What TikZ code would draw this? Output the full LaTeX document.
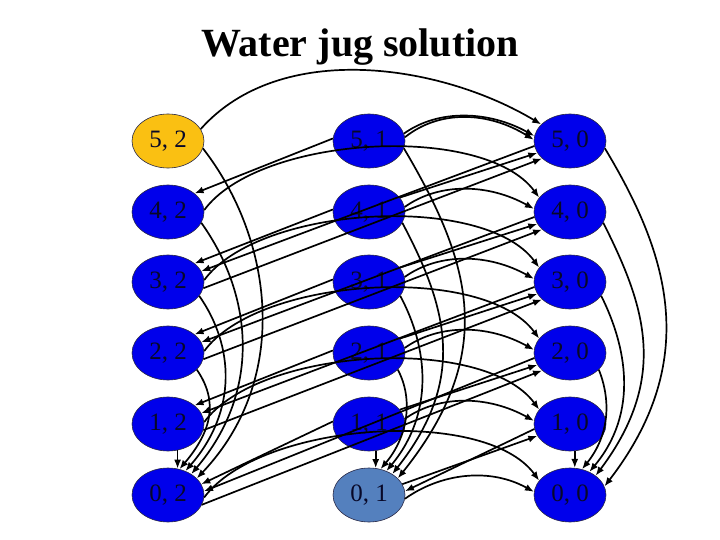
\documentclass[tikz,border=0pt]{standalone}
\usepackage{fontspec}
\setmainfont{Liberation Serif}
\usetikzlibrary{shapes.geometric,arrows.meta}
\definecolor{jugblue}{RGB}{0,0,235}
\definecolor{jugyellow}{RGB}{250,192,18}
\definecolor{jugsteel}{RGB}{84,128,190}
\definecolor{jugtext}{RGB}{8,8,40}
\definecolor{jugline}{RGB}{40,40,70}
\begin{document}
\begin{tikzpicture}[x=1pt,y=-1pt,
  st/.style={ellipse,draw=jugline,line width=0.6pt,fill=jugblue,minimum width=72pt,minimum height=54pt,inner sep=0pt,text=jugtext,font=\fontsize{25}{25}\selectfont},
  ar/.style={line width=1.7pt,-{Latex[length=9pt,width=7pt]}}]
\fill[white] (0,0) rectangle (720,540);
\useasboundingbox (0,0) rectangle (720,540);
\node[font=\bfseries\fontsize{40}{40}\selectfont,anchor=base] (title) at (360,57) {Water jug solution};
% nodes
\node[st,fill=jugyellow] (n52) at (168,141) {5, 2};
\node[st] (n42) at (168,212) {4, 2};
\node[st] (n32) at (168,282) {3, 2};
\node[st] (n22) at (168,353) {2, 2};
\node[st] (n12) at (168,424) {1, 2};
\node[st] (n02) at (168,495) {0, 2};
\node[st] (n51) at (369,141) {5, 1};
\node[st] (n41) at (369,212) {4, 1};
\node[st] (n31) at (369,282) {3, 1};
\node[st] (n21) at (369,353) {2, 1};
\node[st] (n11) at (369,424) {1, 1};
\node[st,fill=jugsteel] (n01) at (369,495) {0, 1};
\node[st] (n50) at (570,141) {5, 0};
\node[st] (n40) at (570,212) {4, 0};
\node[st] (n30) at (570,282) {3, 0};
\node[st] (n20) at (570,353) {2, 0};
\node[st] (n10) at (570,424) {1, 0};
\node[st] (n00) at (570,495) {0, 0};
% empty first jug, column b=2
\draw[ar] (n52.-12) .. controls +(70,90) and +(95,-100) .. (n02.30);
\draw[ar] (n42.-18) .. controls +(50,70) and +(72,-85) .. (n02.42);
\draw[ar] (n32.-24) .. controls +(35,50) and +(52,-60) .. (n02.54);
\draw[ar] (n22.-30) .. controls +(22,32) and +(32,-38) .. (n02.66);
\draw[ar] (n12.-70) -- (n02.70);
% column b=1
\draw[ar] (n51.-12) .. controls +(68,115) and +(100,-125) .. (n01.30);
\draw[ar] (n41.-18) .. controls +(45,85) and +(75,-95) .. (n01.42);
\draw[ar] (n31.-24) .. controls +(28,52) and +(48,-58) .. (n01.54);
\draw[ar] (n21.-30) .. controls +(16,30) and +(27,-32) .. (n01.66);
\draw[ar] (n11.-76) -- (n01.76);
% column b=0
\draw[ar] (n50.-12) .. controls +(60,100) and +(100,-130) .. (n00.14);
\draw[ar] (n40.-18) .. controls +(40,80) and +(75,-100) .. (n00.37);
\draw[ar] (n30.-24) .. controls +(25,50) and +(50,-60) .. (n00.50);
\draw[ar] (n20.-30) .. controls +(12,30) and +(28,-35) .. (n00.65);
\draw[ar] (n10.-80) -- (n00.80);
% empty second jug, from b=2
\draw[ar] (n52.20) .. controls +(80,-90) and +(-100,-60) .. (n50.150);
\draw[ar] (n42.3) .. controls +(55,-75) and +(-55,-75) .. (n40.155);
\draw[ar] (n32.3) .. controls +(55,-75) and +(-55,-75) .. (n30.155);
\draw[ar] (n22.3) .. controls +(55,-75) and +(-55,-75) .. (n20.155);
\draw[ar] (n12.3) .. controls +(55,-75) and +(-55,-75) .. (n10.155);
\draw[ar] (n02.-4) .. controls +(55,-75) and +(-55,-75) .. (n00.155);
% empty second jug, from b=1
\draw[ar] (n51.12) .. controls +(35,-25) and +(-45,-25) .. (n50.172);
\draw[ar] (n51.6) .. controls +(35,-28) and +(-45,-28) .. (n50.178);
\draw[ar] (n41.8) .. controls +(35,-25) and +(-45,-25) .. (n40.175);
\draw[ar] (n31.8) .. controls +(35,-25) and +(-45,-25) .. (n30.175);
\draw[ar] (n21.8) .. controls +(35,-25) and +(-45,-25) .. (n20.175);
\draw[ar] (n11.8) .. controls +(35,-25) and +(-45,-25) .. (n10.175);
\draw[ar] (n01.-6) .. controls +(35,-25) and +(-45,-25) .. (n00.175);
% pour first into second: b=1 -> b=2
\draw[ar] (n51.176) -- (n42.35);
\draw[ar] (n41.176) -- (n32.35);
\draw[ar] (n31.176) -- (n22.35);
\draw[ar] (n21.176) -- (n12.35);
\draw[ar] (n11.176) -- (n02.18);
% pour first into second: b=0 -> b=2
\draw[ar] (n50.188) -- (n32.18);
\draw[ar] (n40.188) -- (n22.18);
\draw[ar] (n30.188) -- (n12.18);
\draw[ar] (n20.188) -- (n02.6);
\draw[ar] (n10.188) -- (n01.6);
% pour second into first: b=2 -> b=0
\draw[ar] (n32.-10) -- (n50.212);
\draw[ar] (n22.-10) -- (n40.212);
\draw[ar] (n12.-10) -- (n30.212);
\draw[ar] (n02.-16) -- (n20.212);
% pour second into first: b=1 -> b=0
\draw[ar] (n41.25) -- (n50.200);
\draw[ar] (n31.25) -- (n40.200);
\draw[ar] (n21.25) -- (n30.200);
\draw[ar] (n11.25) -- (n20.200);
\draw[ar] (n01.18) -- (n10.200);
\end{tikzpicture}
\end{document}
